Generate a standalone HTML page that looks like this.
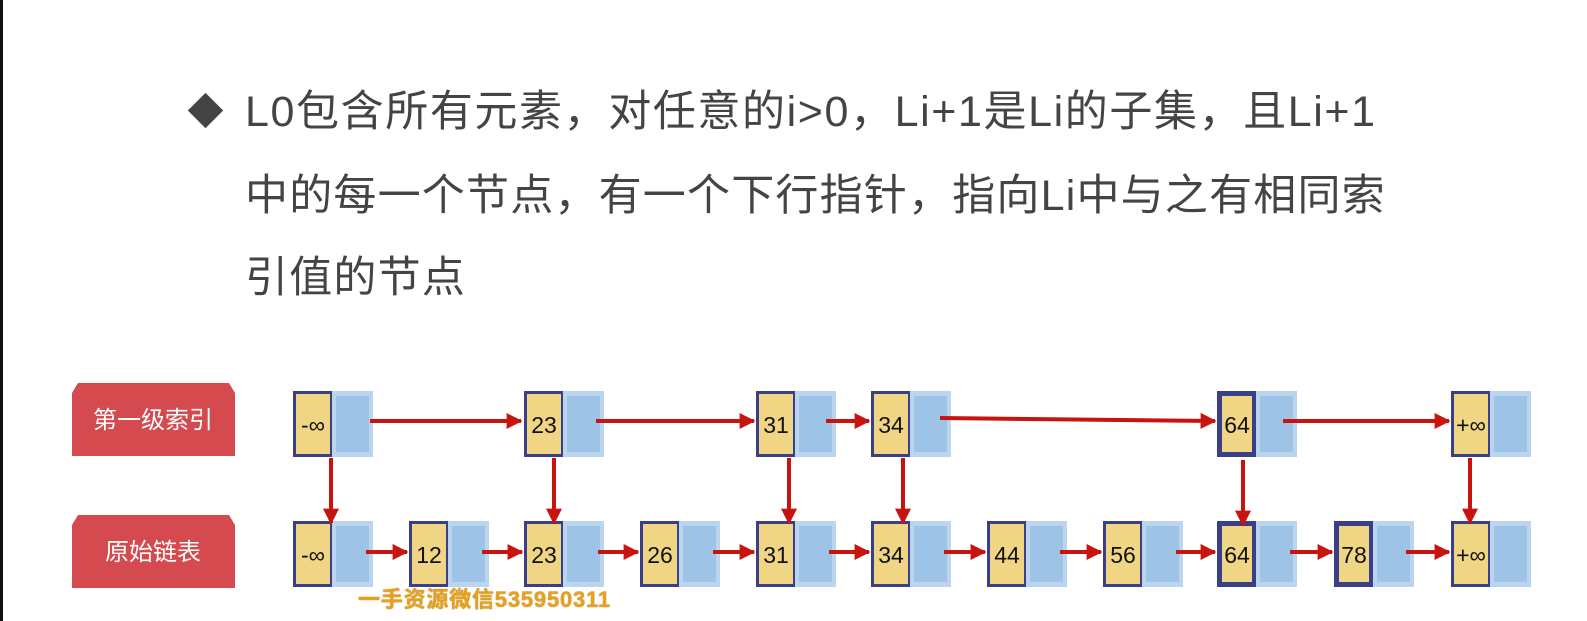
<!DOCTYPE html>
<html><head><meta charset="utf-8"><style>
html,body{margin:0;padding:0;background:#fff;}
body{width:1587px;height:621px;position:relative;overflow:hidden;font-family:"Liberation Sans","Noto Sans CJK SC",sans-serif;}
.bar{position:absolute;left:0;top:0;width:3px;height:621px;background:#111;}
.t{position:absolute;left:245px;font-size:43px;color:#444;white-space:nowrap;line-height:1;letter-spacing:1.6px;}
.dia{position:absolute;left:193px;top:98px;width:25px;height:25px;background:#444;transform:rotate(45deg);}
.wm{position:absolute;left:358px;top:582px;font-size:22px;font-weight:bold;color:#e8a21a;text-shadow:0 0 1px #8a5a00;white-space:nowrap;letter-spacing:0.8px;}
</style></head><body>
<div class="bar"></div>
<div class="dia"></div>
<div class="t" style="top:91px">L0包含所有元素，对任意的i&gt;0，Li+1是Li的子集，且Li+1</div>
<div class="t" style="top:175px;letter-spacing:1.2px">中的每一个节点，有一个下行指针，指向Li中与之有相同索</div>
<div class="t" style="top:257px;letter-spacing:1.2px">引值的节点</div>
<svg width="1587" height="621" style="position:absolute;left:0;top:0" xmlns="http://www.w3.org/2000/svg" font-family="Liberation Sans, sans-serif">
<defs><marker id="a" markerWidth="4" markerHeight="4" refX="3.6" refY="2" orient="auto" markerUnits="strokeWidth"><path d="M0,0 L4,2 L0,4 z" fill="#c8140e"/></marker></defs>
<path d="M72,393 L78,383 L229,383 L235,393 L235,456 L72,456 z" fill="#d44a4e"/>
<path d="M72,525 L78,515 L229,515 L235,525 L235,588 L72,588 z" fill="#d44a4e"/>
<text x="153" y="428" font-size="24" fill="#fff" text-anchor="middle" font-family="Liberation Sans, Noto Sans CJK SC, sans-serif">第一级索引</text>
<text x="153" y="560" font-size="24" fill="#fff" text-anchor="middle" font-family="Liberation Sans, Noto Sans CJK SC, sans-serif">原始链表</text>
<g id="nodes"></g>
<g stroke="#c8140e" stroke-width="4" fill="none" marker-end="url(#a)">
<line x1="370" y1="421" x2="521" y2="421"/>
<line x1="596" y1="421" x2="754" y2="421"/>
<line x1="826" y1="421" x2="869" y2="421"/>
<line x1="940" y1="418" x2="1215" y2="421"/>
<line x1="1283" y1="421" x2="1449" y2="421"/>
<line x1="366" y1="552" x2="407" y2="552"/>
<line x1="482" y1="552" x2="522" y2="552"/>
<line x1="598" y1="552" x2="638" y2="552"/>
<line x1="713" y1="552" x2="754" y2="552"/>
<line x1="829" y1="552" x2="869" y2="552"/>
<line x1="944" y1="552" x2="985" y2="552"/>
<line x1="1060" y1="552" x2="1101" y2="552"/>
<line x1="1176" y1="552" x2="1215" y2="552"/>
<line x1="1290" y1="552" x2="1332" y2="552"/>
<line x1="1406" y1="552" x2="1449" y2="552"/>
<line x1="331" y1="458" x2="331" y2="523"/>
<line x1="554" y1="458" x2="554" y2="523"/>
<line x1="789" y1="458" x2="789" y2="523"/>
<line x1="903" y1="458" x2="903" y2="523"/>
<line x1="1243" y1="460" x2="1243" y2="525"/>
<line x1="1470" y1="458" x2="1470" y2="523"/>
</g>
</svg>
<script>
(function(){
var g=document.getElementById('nodes');
function node(x,y,label,thick){
 var s='';
 s+='<rect x="'+(x+38)+'" y="'+y+'" width="42" height="66" fill="#bcd5ef"/>';
 s+='<rect x="'+(x+43)+'" y="'+(y+5)+'" width="33" height="56" fill="#9dc3e6"/>';
 var b=thick?5:3;
 s+='<rect x="'+x+'" y="'+y+'" width="39" height="66" fill="#3a3f8a"/>';
 s+='<rect x="'+(x+b)+'" y="'+(y+b)+'" width="'+(40-2*b)+'" height="'+(66-2*b)+'" fill="#f0d584"/>';
 s+='<text x="'+(x+20)+'" y="'+(y+42)+'" font-size="23" fill="#111" text-anchor="middle">'+label+'</text>';
 return s;
}
var h='';
var T=[[293,'-∞'],[524,'23'],[756,'31'],[871,'34'],[1217,'64',1],[1451,'+∞']];
T.forEach(function(n){h+=node(n[0],391,n[1],n[2]);});
var B=[[293,'-∞'],[409,'12'],[524,'23'],[640,'26'],[756,'31'],[871,'34'],[987,'44'],[1103,'56'],[1217,'64',1],[1334,'78',1],[1451,'+∞']];
B.forEach(function(n){h+=node(n[0],521,n[1],n[2]);});
g.innerHTML=h;
})();
</script>
<div class="wm">一手资源微信535950311</div>
</body></html>
